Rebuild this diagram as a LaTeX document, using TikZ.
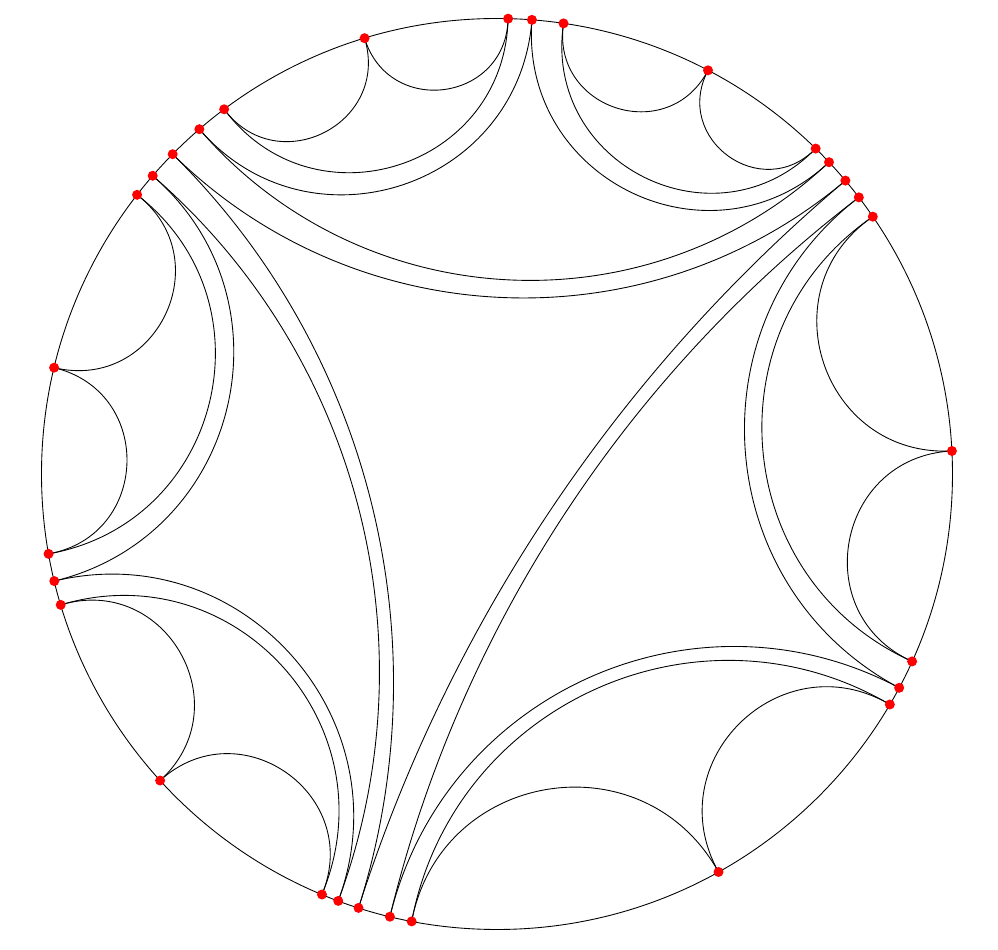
\documentclass[tikz,border=0pt]{standalone}
\usepackage{tikz}
\usetikzlibrary{calc}

\tikzset{
  geo/.style={line width=0.5pt},
  ideal/.style={circle, fill=red, inner sep=0pt, minimum size=0.2cm},
}
\newcommand{\Rdisk}{9.11}

\begin{document}
\begin{tikzpicture}
  \useasboundingbox (-9.94,-9.52) rectangle (10.02,9.48);
  \draw[geo] (0,0) circle (\Rdisk);
  \foreach \i/\a in {1/88.6, 2/85.6, 3/81.6, 4/62.4, 5/45.6, 6/43.2, 7/40.1,
                     8/37.4, 9/34.4, 10/2.9, 11/-24.3, 12/-28.0, 13/-30.4,
                     14/-60.9, 15/-100.8, 16/-103.6, 17/-107.7, 18/-110.4,
                     19/-112.6, 20/-137.7, 21/196.7, 22/193.6, 23/190.1,
                     24/166.5, 25/142.2, 26/139.1, 27/135.4, 28/130.8,
                     29/126.8, 30/106.9}
    \coordinate (p\i) at (\a:\Rdisk);
  % geodesics: arcs meeting the boundary at right angles
  \foreach \i/\j in {29/30, 30/1, 29/1, 28/2, 3/4, 4/5, 3/5, 2/6, 28/6, 27/7,
                     9/10, 10/11, 9/11, 8/12, 13/14, 14/15, 13/15, 12/16, 8/16, 7/17,
                     19/20, 20/21, 19/21, 22/18, 23/24, 24/25, 23/25, 22/26, 26/18, 17/27}
    \draw[geo] let \p1=(p\i), \p2=(p\j),
                   \n1={atan2(\y1,\x1)}, \n2={atan2(\y2,\x2)},
                   \n3={abs(mod(\n2-\n1+540,360)-180)},
                   \n4={(4/3)*tan(45-\n3/4)/(0.783*cos(\n3/2))} in
      (p\i) to[out=\n1+180, in=\n2+180, looseness=\n4] (p\j);
  \foreach \i in {1,...,30}
    \node[ideal] (v\i) at (p\i) {};
\end{tikzpicture}
\end{document}
